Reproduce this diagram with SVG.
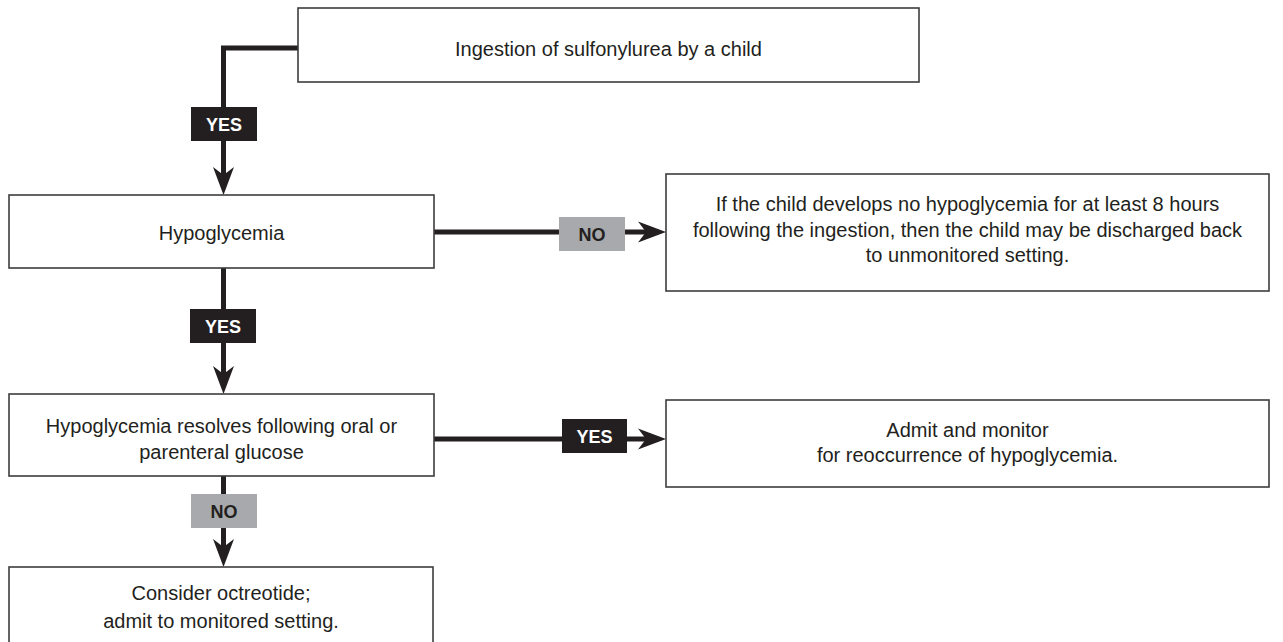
<svg xmlns="http://www.w3.org/2000/svg" width="1283" height="642" viewBox="0 0 1283 642">
  <defs>
    <style>
      .box { fill: #ffffff; stroke: #3d3d3d; stroke-width: 1.6; }
      .txt { font-family: "Liberation Sans", Arial, sans-serif; font-size: 20px; fill: #231f20; text-anchor: middle; }
      .line { fill: none; stroke: #231f20; stroke-width: 5; }
      .head { fill: #231f20; }
      .yes { fill: #231f20; }
      .no { fill: #a7a9ac; }
      .lbl { font-family: "Liberation Sans", Arial, sans-serif; font-size: 18px; font-weight: bold; text-anchor: middle; }
      .lbl-yes { fill: #ffffff; }
      .lbl-no { fill: #231f20; }
    </style>
  </defs>

  <rect width="1283" height="642" fill="#ffffff"/>

  <!-- connectors with their decision labels -->
  <g id="connectors">
    <!-- ingestion -> hypoglycemia -->
    <polyline class="line" points="298,48 223.5,48 223.5,178"/>
    <path class="head" d="M223.5,195 L213,167 L223.5,175 L234,167 Z"/>
    <rect class="yes" x="191" y="107" width="66" height="34"/>
    <text class="lbl lbl-yes" x="224" y="131">YES</text>

    <!-- hypoglycemia -> no hypoglycemia outcome -->
    <line class="line" x1="434" y1="232" x2="650" y2="232"/>
    <path class="head" d="M666,232 L638,221.5 L646,232 L638,242.5 Z"/>
    <rect class="no" x="559" y="217" width="66" height="34"/>
    <text class="lbl lbl-no" x="592" y="241">NO</text>

    <!-- hypoglycemia -> glucose response -->
    <line class="line" x1="223.5" y1="268" x2="223.5" y2="378"/>
    <path class="head" d="M223.5,394 L213,366 L223.5,374 L234,366 Z"/>
    <rect class="yes" x="190" y="309" width="66" height="34"/>
    <text class="lbl lbl-yes" x="223" y="333">YES</text>

    <!-- glucose response -> admit and monitor -->
    <line class="line" x1="434" y1="439" x2="650" y2="439"/>
    <path class="head" d="M666,439 L638,428.5 L646,439 L638,449.5 Z"/>
    <rect class="yes" x="562" y="419" width="65" height="34"/>
    <text class="lbl lbl-yes" x="594.5" y="443">YES</text>

    <!-- glucose response -> octreotide -->
    <line class="line" x1="223.5" y1="476" x2="223.5" y2="550"/>
    <path class="head" d="M223.5,567 L213,539 L223.5,547 L234,539 Z"/>
    <rect class="no" x="191" y="494" width="66" height="34"/>
    <text class="lbl lbl-no" x="224" y="518">NO</text>
  </g>

  <g id="node-ingestion">
    <rect class="box" x="298" y="8" width="621" height="74"/>
    <text class="txt" x="608.5" y="56">Ingestion of sulfonylurea by a child</text>
  </g>

  <g id="node-hypoglycemia">
    <rect class="box" x="9" y="195" width="425" height="73"/>
    <text class="txt" x="221.5" y="240">Hypoglycemia</text>
  </g>

  <g id="node-discharge">
    <rect class="box" x="666" y="174" width="603" height="117"/>
    <text class="txt" x="967.5" y="211">If the child develops no hypoglycemia for at least 8 hours</text>
    <text class="txt" x="967.5" y="237">following the ingestion, then the child may be discharged back</text>
    <text class="txt" x="967.5" y="262">to unmonitored setting.</text>
  </g>

  <g id="node-glucose">
    <rect class="box" x="9" y="394" width="425" height="82"/>
    <text class="txt" x="221.5" y="433">Hypoglycemia resolves following oral or</text>
    <text class="txt" x="221.5" y="459">parenteral glucose</text>
  </g>

  <g id="node-admit">
    <rect class="box" x="666" y="400" width="603" height="87"/>
    <text class="txt" x="967.5" y="437">Admit and monitor</text>
    <text class="txt" x="967.5" y="462">for reoccurrence of hypoglycemia.</text>
  </g>

  <g id="node-octreotide">
    <rect class="box" x="9" y="567" width="424" height="90"/>
    <text class="txt" x="221" y="600">Consider octreotide;</text>
    <text class="txt" x="221" y="628">admit to monitored setting.</text>
  </g>
</svg>
